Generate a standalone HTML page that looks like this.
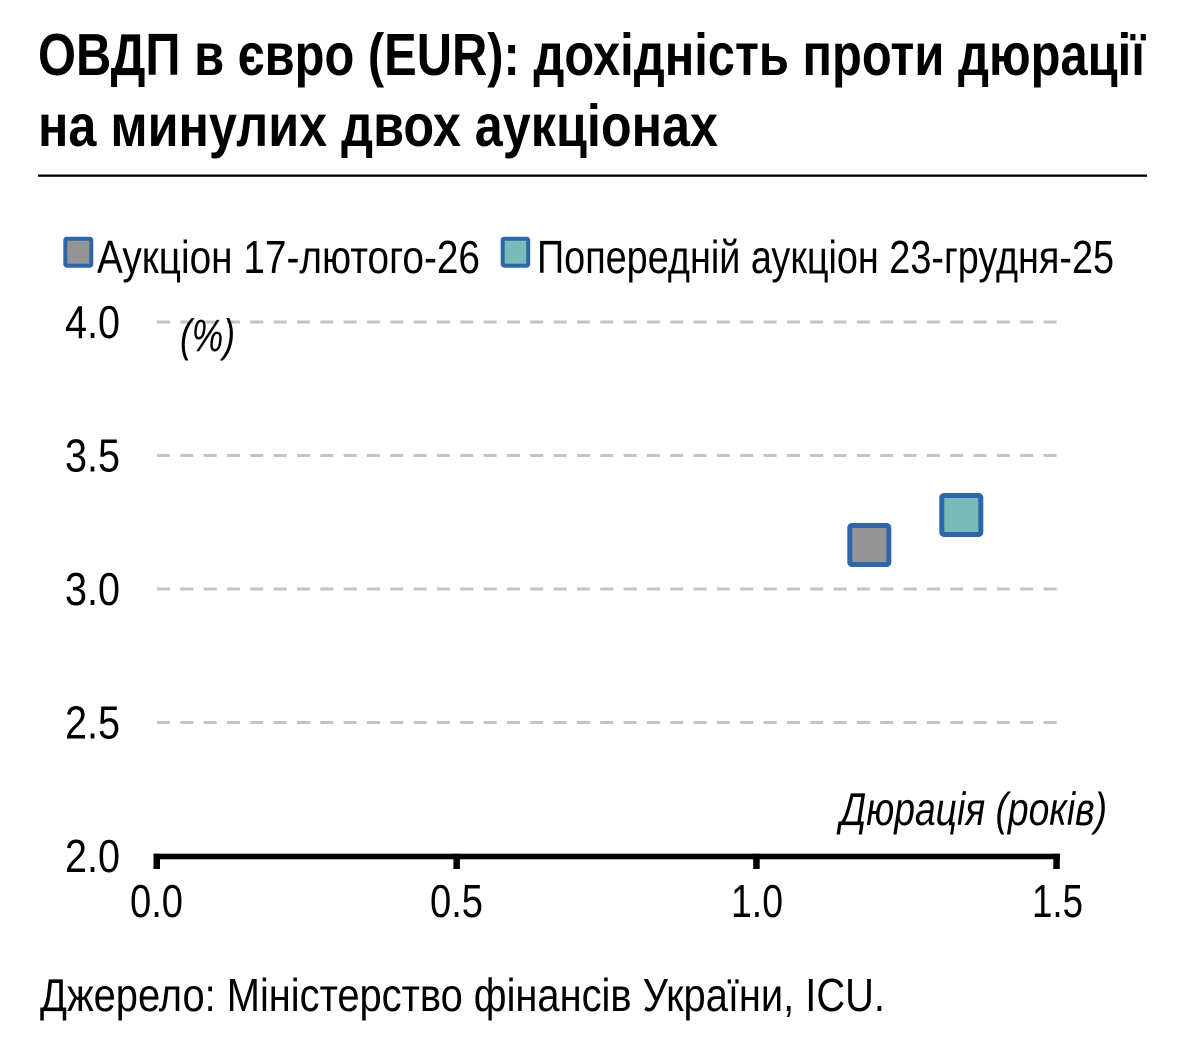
<!DOCTYPE html>
<html>
<head>
<meta charset="utf-8">
<style>
  html, body { margin: 0; padding: 0; background: #ffffff; }
  svg { display: block; }
  .t { font-family: "Liberation Sans Narrow", "Liberation Sans", "DejaVu Sans", sans-serif; fill: #000; }
  .b { font-weight: bold; }
  .i { font-style: italic; }
</style>
</head>
<body>
<svg width="1183" height="1060" viewBox="0 0 1183 1060" xmlns="http://www.w3.org/2000/svg">
  <rect x="0" y="0" width="1183" height="1060" fill="#ffffff"/>

  <!-- Title -->
  <text class="t b" x="38" y="75" font-size="59" textLength="1107" lengthAdjust="spacingAndGlyphs">ОВДП в євро (EUR): дохідність проти дюрації</text>
  <text class="t b" x="38" y="146" font-size="59" textLength="680" lengthAdjust="spacingAndGlyphs">на минулих двох аукціонах</text>
  <rect x="38" y="174.5" width="1109" height="2.3" fill="#000"/>

  <!-- Legend -->
  <rect x="65.3" y="238.7" width="26" height="27" fill="#959595" stroke="#2f65a9" stroke-width="4" rx="1.5"/>
  <text class="t" x="97" y="273" font-size="46" textLength="383" lengthAdjust="spacingAndGlyphs">Аукціон 17-лютого-26</text>
  <rect x="502.7" y="238.7" width="25.5" height="27" fill="#79bcb7" stroke="#2f65a9" stroke-width="4" rx="1.5"/>
  <text class="t" x="537" y="273" font-size="46" textLength="577" lengthAdjust="spacingAndGlyphs">Попередній аукціон 23-грудня-25</text>

  <!-- Gridlines -->
  <g stroke="#c4c4c4" stroke-width="3" stroke-dasharray="13 10.33" fill="none">
    <line x1="157" y1="322" x2="1057" y2="322"/>
    <line x1="157" y1="455.5" x2="1057" y2="455.5"/>
    <line x1="157" y1="589" x2="1057" y2="589"/>
    <line x1="157" y1="722.5" x2="1057" y2="722.5"/>
  </g>

  <!-- Y tick labels -->
  <text class="t" x="65" y="338" font-size="46" textLength="55" lengthAdjust="spacingAndGlyphs">4.0</text>
  <text class="t" x="65" y="471.5" font-size="46" textLength="55" lengthAdjust="spacingAndGlyphs">3.5</text>
  <text class="t" x="65" y="605" font-size="46" textLength="55" lengthAdjust="spacingAndGlyphs">3.0</text>
  <text class="t" x="65" y="738.5" font-size="46" textLength="55" lengthAdjust="spacingAndGlyphs">2.5</text>
  <text class="t" x="65" y="872" font-size="46" textLength="55" lengthAdjust="spacingAndGlyphs">2.0</text>

  <!-- Y unit label -->
  <text class="t i" x="180" y="351" font-size="45" textLength="55" lengthAdjust="spacingAndGlyphs">(%)</text>

  <!-- X axis -->
  <rect x="153.5" y="853.7" width="906.5" height="5.6" fill="#000"/>
  <rect x="153.5" y="853.7" width="6.5" height="15.3" fill="#000"/>
  <rect x="453.4" y="853.7" width="6.5" height="15.3" fill="#000"/>
  <rect x="753.2" y="853.7" width="6.5" height="15.3" fill="#000"/>
  <rect x="1053.3" y="853.7" width="6.5" height="15.3" fill="#000"/>

  <!-- X tick labels -->
  <text class="t" x="130" y="917" font-size="46" textLength="53" lengthAdjust="spacingAndGlyphs">0.0</text>
  <text class="t" x="430" y="917" font-size="46" textLength="53" lengthAdjust="spacingAndGlyphs">0.5</text>
  <text class="t" x="731" y="917" font-size="46" textLength="52" lengthAdjust="spacingAndGlyphs">1.0</text>
  <text class="t" x="1032" y="917" font-size="46" textLength="51" lengthAdjust="spacingAndGlyphs">1.5</text>

  <!-- X axis label -->
  <text class="t i" x="840" y="825" font-size="46" textLength="267" lengthAdjust="spacingAndGlyphs">Дюрація (років)</text>

  <!-- Data markers -->
  <rect x="849.8" y="525.5" width="39" height="39" fill="#959595" stroke="#2f65a9" stroke-width="5" rx="2"/>
  <rect x="941.8" y="495.5" width="39" height="39" fill="#79bcb7" stroke="#2f65a9" stroke-width="5" rx="2"/>

  <!-- Footer -->
  <text class="t" x="40" y="1011" font-size="46" textLength="845" lengthAdjust="spacingAndGlyphs">Джерело: Міністерство фінансів України, ICU.</text>
</svg>
</body>
</html>
